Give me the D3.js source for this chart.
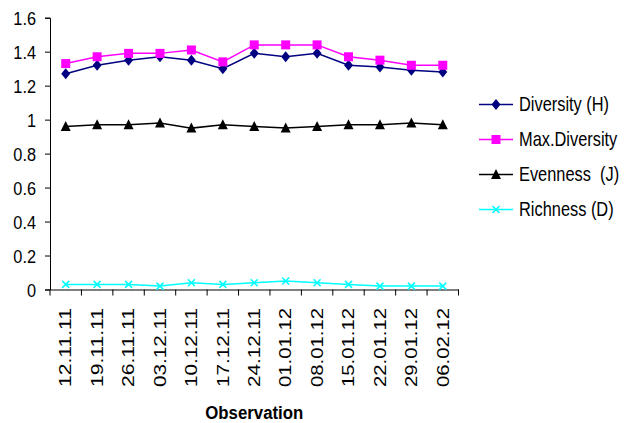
<!DOCTYPE html>
<html lang="en">
<head>
    <meta charset="UTF-8">
    <title>Diversity indices by observation</title>
    <script src="https://d3js.org/d3.v7.min.js"></script>
    <style>
        body {
            margin: 0;
            padding: 0;
            background-color: #fff;
            font-family: "Liberation Sans", Arial, sans-serif;
        }

        .axis path,
        .axis line {
            stroke: #000;
            stroke-width: 1px;
        }

        .axis text {
            font-family: "Liberation Sans", Arial, sans-serif;
            fill: #000;
        }

        .legend-text {
            font-size: 20px;
            white-space: pre;
        }
    </style>
</head>
<body>
<svg id="chart" width="629" height="423"></svg>

<script>
    // Observation dates
    const dates = ['12.11.11', '19.11.11', '26.11.11', '03.12.11', '10.12.11', '17.12.11', '24.12.11',
        '01.01.12', '08.01.12', '15.01.12', '22.01.12', '29.01.12', '06.02.12'];

    // Series values
    const diversity = [1.27, 1.32, 1.35, 1.37, 1.35, 1.30, 1.39, 1.37, 1.39, 1.32, 1.31, 1.29, 1.28];
    const maxDiversity = [1.33, 1.37, 1.39, 1.39, 1.41, 1.34, 1.44, 1.44, 1.44, 1.37, 1.35, 1.32, 1.32];
    const evenness = [0.96, 0.97, 0.97, 0.98, 0.95, 0.97, 0.96, 0.95, 0.96, 0.97, 0.97, 0.98, 0.97];
    const richness = [0.03, 0.03, 0.03, 0.02, 0.04, 0.03, 0.04, 0.05, 0.04, 0.03, 0.02, 0.02, 0.02];

    const yTicks = [0, 0.2, 0.4, 0.6, 0.8, 1, 1.2, 1.4, 1.6];

    const seriesNames = ['Diversity (H)', 'Max.Diversity', 'Evenness  (J)', 'Richness (D)'];
    const seriesValues = [diversity, maxDiversity, evenness, richness];
    const seriesColors = ['#000080', '#ff00ff', '#000000', '#00ffff'];
    const seriesSymbols = ['diamond', 'square', 'triangle', 'cross'];

    const svg = d3.select('#chart');

    // Plot area
    const plot = { left: 50, right: 458.5, top: 17.7, bottom: 289.5 };

    const x = d3.scaleBand().domain(dates).range([plot.left, plot.right]);
    const y = d3.scaleLinear().domain([0, 1.6]).range([plot.bottom, plot.top]);

    // Y axis
    const yAxis = svg.append('g')
        .attr('class', 'axis')
        .attr('transform', `translate(${plot.left},0)`)
        .call(d3.axisLeft(y).tickValues(yTicks).tickSize(5).tickPadding(9)
            .tickFormat(d => d3.format('~g')(d)));
    // the original uses a narrow face, so squeeze the labels a bit
    yAxis.selectAll('text')
        .style('font-size', '19px')
        .attr('dy', '0.35em')
        .attr('x', -14 / 0.86)
        .attr('transform', 'scale(0.86,1)');

    // X axis (labels at band centres, ticks on band edges)
    const xAxis = svg.append('g')
        .attr('class', 'axis')
        .attr('transform', `translate(0,${plot.bottom})`)
        .call(d3.axisBottom(x).tickSizeInner(0).tickSizeOuter(0));
    xAxis.selectAll('text')
        .style('font-size', '16px')
        .attr('transform', 'rotate(-90)')
        .attr('x', -18.5)
        .attr('y', 0)
        .attr('dy', '0.36em')
        .attr('text-anchor', 'end')
        .attr('textLength', 79)
        .attr('lengthAdjust', 'spacingAndGlyphs');

    const edges = dates.map(d => x(d)).concat([x(dates[dates.length - 1]) + x.bandwidth()]);
    xAxis.selectAll('.edge-tick')
        .data(edges)
        .join('line')
        .attr('class', 'edge-tick')
        .attr('x1', d => d)
        .attr('x2', d => d)
        .attr('y1', 0)
        .attr('y2', 6)
        .attr('stroke', '#000');

    // Axis title
    svg.append('text')
        .attr('x', (plot.left + plot.right) / 2)
        .attr('y', 419)
        .attr('text-anchor', 'middle')
        .style('font-size', '18px')
        .style('font-weight', 'bold')
        .attr('textLength', 98)
        .attr('lengthAdjust', 'spacingAndGlyphs')
        .text('Observation');

    // Marker shapes
    function marker(sel, type, color) {
        if (type === 'diamond') {
            sel.append('path').attr('d', 'M0,-5.5L4.5,0L0,5.5L-4.5,0Z').attr('fill', color);
        } else if (type === 'square') {
            sel.append('rect').attr('x', -4.5).attr('y', -4.5).attr('width', 9).attr('height', 9).attr('fill', color);
        } else if (type === 'triangle') {
            sel.append('path').attr('d', 'M0,-5.5L5,4.5L-5,4.5Z').attr('fill', color);
        } else {
            sel.append('path').attr('d', 'M-3.5,-3.5L3.5,3.5M-3.5,3.5L3.5,-3.5')
                .attr('stroke', color).attr('stroke-width', 1.5).attr('fill', 'none');
        }
    }

    const line = d3.line()
        .x((d, i) => x(dates[i]) + x.bandwidth() / 2)
        .y(d => y(d));

    // Draw each series
    seriesValues.forEach((vals, s) => {
        svg.append('path')
            .datum(vals)
            .attr('fill', 'none')
            .attr('stroke', seriesColors[s])
            .attr('stroke-width', 1.5)
            .attr('d', line);

        vals.forEach((v, i) => {
            const g = svg.append('g')
                .attr('transform', `translate(${x(dates[i]) + x.bandwidth() / 2},${y(v)})`);
            marker(g, seriesSymbols[s], seriesColors[s]);
        });
    });

    // Legend
    const legendY = [104.5, 139.5, 174.5, 209.5];
    seriesNames.forEach((name, s) => {
        const g = svg.append('g').attr('transform', `translate(479,${legendY[s]})`);
        g.append('line')
            .attr('x1', 0).attr('x2', 34)
            .attr('y1', 0).attr('y2', 0)
            .attr('stroke', seriesColors[s])
            .attr('stroke-width', 1.5);
        marker(g.append('g').attr('transform', 'translate(17,0)'), seriesSymbols[s], seriesColors[s]);
        g.append('text')
            .attr('class', 'legend-text')
            .attr('transform', 'translate(40,0) scale(0.82,1)')
            .attr('dy', '0.3em')
            .text(name);
    });
</script>
</body>
</html>
